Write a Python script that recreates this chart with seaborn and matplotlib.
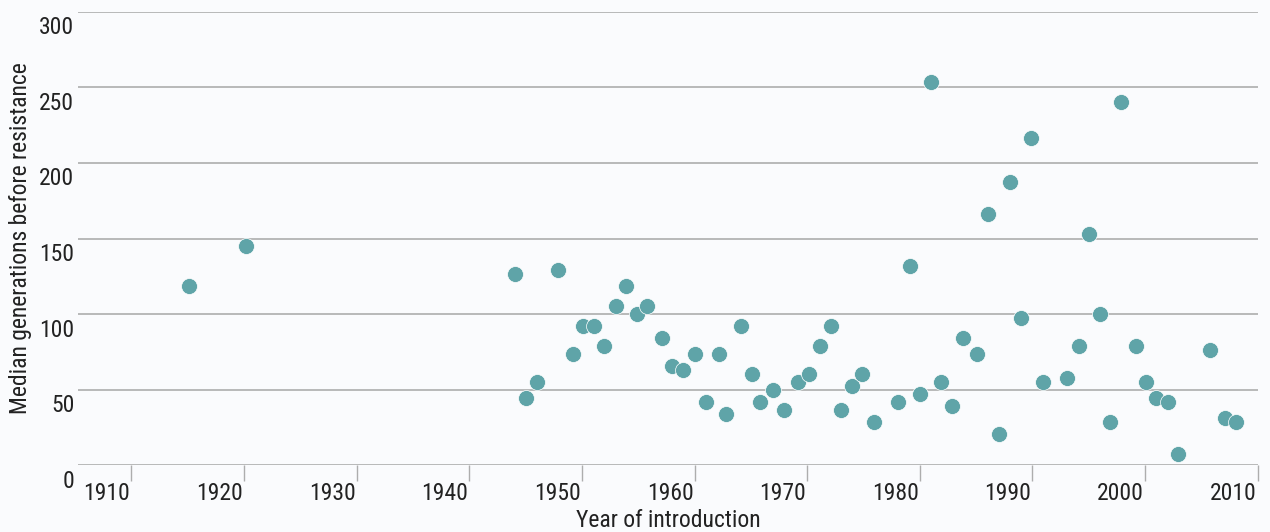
import numpy as np
import pandas as pd
import matplotlib
matplotlib.use("Agg")
import matplotlib.pyplot as plt
import matplotlib.transforms as mtransforms
import seaborn as sns

# ---- data ----
years = [1915.1, 1920.2, 1944.1, 1945.0, 1946.0, 1947.9, 1949.2, 1950.1, 1951.1, 1952.0,
         1953.0, 1953.9, 1954.9, 1955.8, 1957.1, 1958.0, 1959.0, 1960.0, 1961.0, 1962.2,
         1962.8, 1964.1, 1965.1, 1965.8, 1967.0, 1967.9, 1969.2, 1970.2, 1971.1, 1972.1,
         1973.0, 1974.0, 1974.9, 1975.9, 1978.1, 1979.1, 1980.0, 1981.0, 1981.9, 1982.9,
         1983.8, 1985.1, 1986.1, 1987.0, 1988.0, 1989.0, 1989.9, 1990.9, 1993.1, 1994.1,
         1995.0, 1996.0, 1996.9, 1997.9, 1999.2, 2000.1, 2001.0, 2002.0, 2002.9, 2005.8,
         2007.1, 2008.1]
generations = [118.6, 144.8, 126.5, 44.5, 55.1, 129.0, 73.4, 91.9, 91.9, 78.7,
               105.4, 118.6, 100.1, 105.4, 84.2, 65.7, 63.0, 73.4, 41.9, 73.4,
               33.9, 91.9, 60.4, 41.9, 49.8, 36.4, 55.1, 60.4, 78.9, 91.9,
               36.4, 52.4, 60.4, 28.6, 41.9, 131.8, 47.2, 253.3, 55.1, 39.2,
               84.2, 73.6, 166.0, 20.7, 187.2, 97.2, 216.3, 55.1, 57.7, 78.9,
               152.8, 99.9, 28.6, 240.1, 78.9, 55.1, 44.5, 41.9, 7.5, 76.3,
               31.3, 28.6]
x_ticks = [1910, 1920, 1930, 1940, 1950, 1960, 1970, 1980, 1990, 2000, 2010]
y_ticks = [0, 50, 100, 150, 200, 250, 300]

df = pd.DataFrame({"year": years, "gens": generations})

BG = "#fafbfd"
GRID = "#adadad"
DOT = "#5fa4a8"
TXT = "#222222"
FS = 17

sns.set_theme(style="white")
plt.rcParams["font.family"] = ["Roboto Condensed", "DejaVu Sans"]

fig, ax = plt.subplots(figsize=(12.7, 5.32), dpi=100)
fig.patch.set_facecolor(BG)
ax.set_facecolor(BG)
fig.subplots_adjust(left=78.4 / 1270, right=1257.7 / 1270,
                    bottom=(532 - 465.3) / 532, top=(532 - 11.7) / 532)

sns.scatterplot(data=df, x="year", y="gens", color=DOT, s=132,
                edgecolor="white", linewidth=0.5, alpha=1, ax=ax, zorder=3)

ax.set_xlim(1905.3, 2010.0)
ax.set_ylim(0, 300)
ax.set_xticks(x_ticks)
ax.set_yticks(y_ticks)
ax.set_xticklabels([str(t) for t in x_ticks])
ax.set_yticklabels([str(t) for t in y_ticks])

for s in ax.spines.values():
    s.set_visible(False)

ax.yaxis.grid(True, color=GRID, linewidth=1.2)
ax.xaxis.grid(False)
ax.set_axisbelow(True)

ax.tick_params(axis="x", bottom=True, length=11.3, width=1, color=GRID,
               direction="out", pad=0.5, labelsize=FS, labelcolor=TXT)
ax.tick_params(axis="y", left=False, length=0, pad=3, labelsize=FS, labelcolor=TXT)

# x labels end at their tick, y labels hang just below their gridline
xoff = mtransforms.ScaledTranslation(-1 / 100, 0, fig.dpi_scale_trans)
for lab in ax.get_xticklabels():
    lab.set_ha("right")
    lab.set_transform(lab.get_transform() + xoff)
yoff = mtransforms.ScaledTranslation(0, -13.5 / 100, fig.dpi_scale_trans)
for lab in ax.get_yticklabels():
    lab.set_transform(lab.get_transform() + yoff)

ax.set_xlabel("Year of introduction", fontsize=FS, color=TXT)
ax.set_ylabel("Median generations before resistance", fontsize=FS, color=TXT)
ax.xaxis.set_label_coords(0.5, -0.097)
ax.yaxis.set_label_coords(-0.0495, 0.5)
ax.yaxis.label.set_va("center")

plt.savefig("out.png", dpi=100, facecolor=BG)
plt.close()
